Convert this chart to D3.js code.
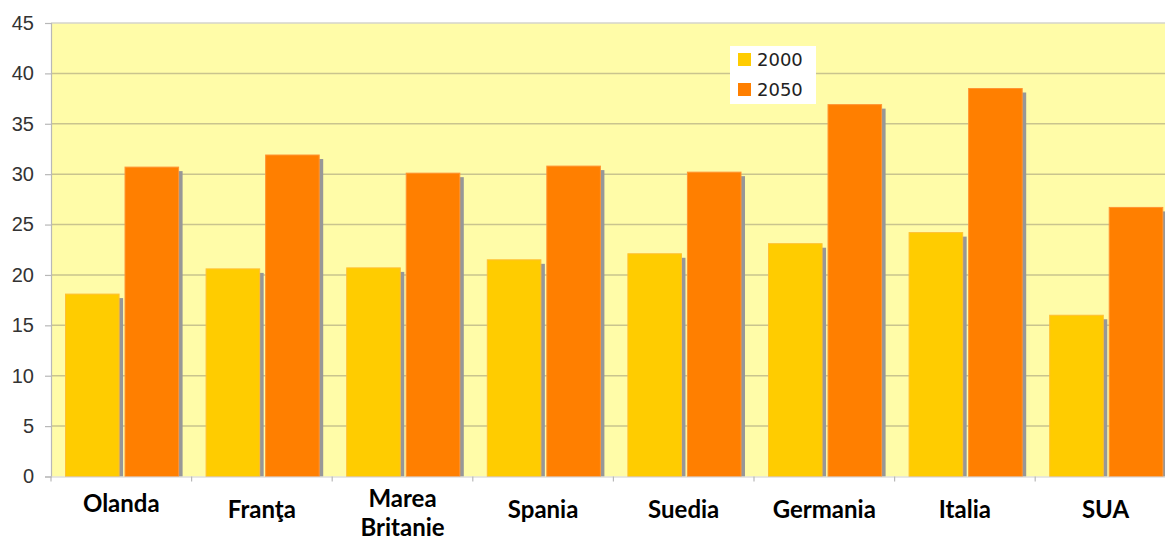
<!DOCTYPE html>
<html>
<head>
<meta charset="utf-8">
<script src="https://cdn.jsdelivr.net/npm/d3@7"></script>
<style>
  html, body { margin: 0; padding: 0; background: #fff; overflow: hidden; }
  svg { display: block; }
</style>
</head>
<body>
<svg id="chart"></svg>
<script>
// data
const countries = ['Olanda', 'Franţa', 'Marea Britanie', 'Spania', 'Suedia', 'Germania', 'Italia', 'SUA'];
const years = ['2000', '2050'];
const values2000 = [18.1, 20.6, 20.7, 21.5, 22.1, 23.1, 24.2, 16.0];
const values2050 = [30.7, 31.9, 30.1, 30.8, 30.2, 36.9, 38.5, 26.7];
const yTicks = [0, 5, 10, 15, 20, 25, 30, 35, 40, 45];

const colors = { '2000': '#ffcc00', '2050': '#ff7f00' };
const edges = { '2000': '#ffbf33', '2050': '#ff9433' };

const width = 1165;
const height = 547;
const margin = { top: 23, left: 51 };
const plotBottom = 476.5;
const step = 140.6;

const svg = d3.select('#chart').attr('width', width).attr('height', height);

const x0 = d3.scaleBand()
  .domain(countries)
  .range([margin.left, margin.left + step * countries.length])
  .paddingInner(0)
  .paddingOuter(0);

const x1 = d3.scaleBand()
  .domain(years)
  .range([14.5, step - 13])
  .paddingInner(0.1);

const y = d3.scaleLinear().domain([0, 45]).range([plotBottom, margin.top]);

const rows = countries.map((c, i) => ({
  country: c,
  series: [
    { year: '2000', value: values2000[i] },
    { year: '2050', value: values2050[i] }
  ]
}));

// plot background
svg.append('rect')
  .attr('x', margin.left)
  .attr('y', margin.top)
  .attr('width', x0.range()[1] - margin.left)
  .attr('height', plotBottom - margin.top)
  .attr('fill', '#fffca8');

// gridlines
svg.append('g')
  .selectAll('line')
  .data(yTicks.filter(d => d > 0))
  .join('line')
  .attr('x1', margin.left)
  .attr('x2', width)
  .attr('y1', d => y(d))
  .attr('y2', d => y(d))
  .attr('stroke', d => d === 45 ? '#d4d4cc' : '#c9c48e')
  .attr('stroke-width', 1.5);

// y axis
const yAxis = svg.append('g')
  .attr('transform', `translate(${margin.left},0)`)
  .call(d3.axisLeft(y).tickValues(yTicks).tickSize(6).tickPadding(11));
yAxis.select('.domain').attr('stroke', '#b8b8b8').attr('stroke-width', 1.2);
yAxis.selectAll('.tick line').attr('stroke', '#b8b8b8').attr('stroke-width', 1.2);
yAxis.selectAll('.tick text')
  .attr('fill', '#333')
  .style('font-family', '"Liberation Sans", Arial, sans-serif')
  .style('font-size', '20px');

// bars
const groups = svg.append('g')
  .selectAll('g')
  .data(rows)
  .join('g')
  .attr('transform', d => `translate(${x0(d.country)},0)`);

// shadows
groups.selectAll('rect.shadow')
  .data(d => d.series)
  .join('rect')
  .attr('class', 'shadow')
  .attr('x', d => x1(d.year) + 4)
  .attr('y', d => y(d.value) + 4)
  .attr('width', x1.bandwidth())
  .attr('height', d => plotBottom - y(d.value) - 4)
  .attr('fill', '#979797');

groups.selectAll('rect.bar')
  .data(d => d.series)
  .join('rect')
  .attr('class', 'bar')
  .attr('x', d => x1(d.year))
  .attr('y', d => y(d.value))
  .attr('width', x1.bandwidth())
  .attr('height', d => plotBottom - y(d.value))
  .attr('fill', d => colors[d.year])
  .attr('stroke', d => edges[d.year])
  .attr('stroke-width', 1);

// bottom axis line and ticks
svg.append('line')
  .attr('x1', margin.left).attr('x2', width)
  .attr('y1', plotBottom + 0.5).attr('y2', plotBottom + 0.5)
  .attr('stroke', '#d0d0d0').attr('stroke-width', 1);

svg.append('g')
  .selectAll('line')
  .data(countries)
  .join('line')
  .attr('x1', d => x0(d))
  .attr('x2', d => x0(d))
  .attr('y1', plotBottom)
  .attr('y2', plotBottom + 5)
  .attr('stroke', '#b8b8b8')
  .attr('stroke-width', 1.2);

// category labels
const labelBase = { 'Olanda': 512, 'Marea Britanie': 507 };
svg.append('g')
  .selectAll('text')
  .data(countries)
  .join('text')
  .attr('text-anchor', 'middle')
  .attr('x', d => x0(d) + x0.bandwidth() / 2)
  .attr('y', d => labelBase[d] || 518)
  .style('font-family', 'Lato, "Open Sans", sans-serif')
  .style('font-weight', 'bold')
  .style('font-size', '24px')
  .attr('fill', '#000')
  .each(function (d) {
    const words = d.split(' ');
    const t = d3.select(this);
    words.forEach((w, i) => {
      t.append('tspan')
        .attr('x', x0(d) + x0.bandwidth() / 2)
        .attr('dy', i === 0 ? 0 : 29)
        .text(w);
    });
  });

// legend
const legend = svg.append('g').attr('transform', 'translate(730,46)');
legend.append('rect')
  .attr('width', 86).attr('height', 58)
  .attr('fill', '#fff');
const item = legend.selectAll('g')
  .data(years)
  .join('g')
  .attr('transform', (d, i) => `translate(8,${7 + i * 30})`);
item.append('rect')
  .attr('width', 13).attr('height', 13)
  .attr('fill', d => colors[d]);
item.append('text')
  .attr('x', 19)
  .attr('y', 13)
  .style('font-family', 'DejaVu Sans, sans-serif')
  .style('font-size', '18px')
  .attr('fill', '#222')
  .text(d => d);
</script>
</body>
</html>
